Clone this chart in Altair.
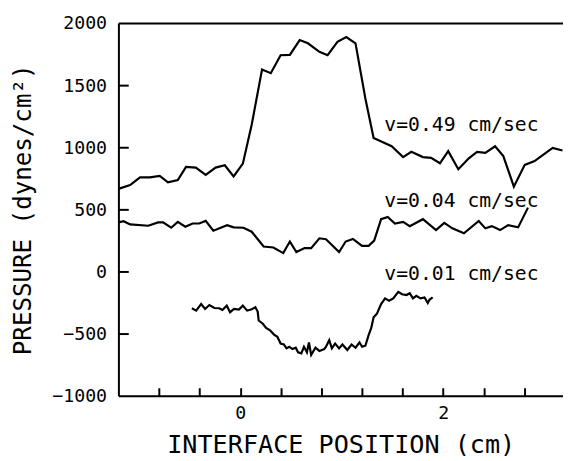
import altair as alt
import pandas as pd

# ---- data ----
x_049 = [-1.2, -1.085, -0.987, -0.89, -0.793, -0.712, -0.615, -0.534, -0.437, -0.34, -0.243, -0.152, -0.065,
         0.026, 0.113, 0.215, 0.301, 0.398, 0.489, 0.586, 0.667, 0.78, 0.861, 0.958, 1.045, 1.136, 1.233,
         1.314, 1.492, 1.605, 1.686, 1.8, 1.88, 1.968, 2.049, 2.149, 2.252, 2.333, 2.415, 2.511, 2.592,
         2.696, 2.803, 2.9, 2.98, 3.078, 3.175]
p_049 = [665, 696, 757, 757, 770, 717, 736, 842, 836, 778, 836, 855, 765,
         868, 1181, 1625, 1596, 1741, 1744, 1863, 1837, 1768, 1741, 1848, 1887, 1837, 1392,
         1074, 1008, 921, 963, 921, 915, 871, 969, 823, 911, 963, 955, 1008, 929,
         683, 858, 889, 937, 995, 974]

x_004 = [-1.197, -1.149, -1.085, -0.906, -0.809, -0.76, -0.68, -0.615, -0.541, -0.469, -0.405, -0.34, -0.265,
         -0.129, -0.065, 0.032, 0.113, 0.165, 0.23, 0.327, 0.424, 0.489, 0.553, 0.634, 0.699, 0.78, 0.845,
         0.974, 1.039, 1.11, 1.2, 1.265, 1.32, 1.388, 1.453, 1.524, 1.605, 1.67, 1.8, 1.929, 2.01, 2.09,
         2.204, 2.35, 2.415, 2.479, 2.56, 2.64, 2.738, 2.835]
p_004 = [395, 405, 379, 368, 395, 395, 352, 399, 360, 386, 386, 407, 328,
         373, 355, 352, 320, 267, 201, 193, 148, 241, 156, 188, 188, 267, 259,
         156, 241, 262, 206, 206, 249, 421, 439, 386, 399, 365, 421, 333, 391, 347,
         307, 407, 347, 365, 333, 373, 355, 514]

x_001 = [-0.476, -0.434, -0.385, -0.346, -0.304, -0.255, -0.207, -0.175, -0.133, -0.1, -0.061, -0.013, 0.026,
         0.068, 0.107, 0.149, 0.172, 0.182, 0.223, 0.255, 0.294, 0.333, 0.366, 0.398, 0.43, 0.456, 0.483,
         0.515, 0.547, 0.57, 0.602, 0.628, 0.657, 0.677, 0.699, 0.741, 0.78, 0.828, 0.845, 0.877, 0.903,
         0.935, 0.974, 1.007, 1.055, 1.097, 1.136, 1.175, 1.201, 1.233, 1.265, 1.291, 1.314, 1.346, 1.388,
         1.427, 1.466, 1.508, 1.557, 1.595, 1.638, 1.67, 1.702, 1.735, 1.777, 1.816, 1.848, 1.864, 1.896]
p_001 = [-296, -315, -262, -302, -270, -294, -296, -310, -275, -328, -302, -307, -275,
         -315, -307, -288, -323, -395, -421, -455, -474, -508, -526, -580, -588, -619, -606,
         -625, -614, -651, -659, -606, -651, -572, -672, -614, -640, -625, -606, -553, -619,
         -580, -619, -588, -632, -588, -614, -572, -606, -598, -513, -455, -368, -341, -262,
         -217, -235, -217, -164, -183, -190, -175, -217, -196, -217, -209, -254, -228, -209]

labels = ["v=0.49 cm/sec", "v=0.04 cm/sec", "v=0.01 cm/sec"]
label_x = [1.42, 1.42, 1.42]
label_p = [1175, 565, -20]

x_major = [0, 2]
x_minor = [-0.8, -0.4, 0, 0.4, 0.8, 1.2, 1.6, 2.0, 2.4, 2.8]
y_major = [-1000, -500, 0, 500, 1000, 1500, 2000]
y_minor = [-500, 0, 500, 1000, 1500]

rows = []
for name, xs_, ps_ in [("0.49", x_049, p_049), ("0.04", x_004, p_004), ("0.01", x_001, p_001)]:
    for i, (a, b) in enumerate(zip(xs_, ps_)):
        rows.append({"series": name, "order": i, "x": a, "p": b})
df = pd.DataFrame(rows)
lab_df = pd.DataFrame({"text": labels, "x": label_x, "p": label_p})

FONT = "DejaVu Sans Mono"
W, H = 451, 378
xsc = alt.Scale(domain=[-1.2, 3.18], nice=False, zero=False)
ysc = alt.Scale(domain=[-1000, 2000], nice=False, zero=False)

lines = alt.Chart(df).mark_line(color="black", strokeWidth=2.2, clip=True).encode(
    x=alt.X("x:Q", scale=xsc, axis=alt.Axis(
        values=x_major, format="d", title="INTERFACE POSITION (cm)", ticks=False, labelPadding=8,
        domainWidth=2, domainColor="black", grid=False, labelFontSize=18.5, titleFontSize=25.5,
        labelFont=FONT, titleFont=FONT, titleFontWeight="normal", titlePadding=11,
        labelColor="black", titleColor="black")),
    y=alt.Y("p:Q", scale=ysc, axis=alt.Axis(
        values=y_major, format="d", title="PRESSURE (dynes/cm²)", ticks=False, labelPadding=12,
        domainWidth=2, domainColor="black", grid=False, labelFontSize=18.5, titleFontSize=24.5,
        labelFont=FONT, titleFont=FONT, titleFontWeight="normal", titlePadding=16,
        labelColor="black", titleColor="black")),
    detail="series:N",
    order="order:Q",
)

ticks = alt.Chart(df).mark_line(opacity=0).encode(
    x=alt.X("x:Q", scale=xsc, axis=alt.Axis(
        orient="top", offset=-H, values=x_minor, labels=False, title="", domain=False,
        tickSize=8, tickWidth=2, tickColor="black", grid=False)),
    y=alt.Y("p:Q", scale=ysc, axis=alt.Axis(
        orient="right", offset=-W, values=y_minor, labels=False, title="", domain=False,
        tickSize=10, tickWidth=2, tickColor="black", grid=False)),
    detail="series:N",
)

text = alt.Chart(lab_df).mark_text(align="left", baseline="middle", font=FONT, fontSize=20, color="black").encode(
    x=alt.X("x:Q", scale=xsc, axis=alt.Axis(
        orient="top", labels=False, ticks=False, title="", domainWidth=2, domainColor="black", grid=False)),
    y=alt.Y("p:Q", scale=ysc, axis=None),
    text="text:N",
)

chart = alt.layer(lines, ticks, text).resolve_axis(x="independent", y="independent").properties(
    width=W, height=H,
    autosize=alt.AutoSizeParams(type="none"),
    padding={"left": 112, "top": 12, "right": 0, "bottom": 62},
).configure_view(stroke=None).configure(background="white")

chart.save("out.html", embed_options={"renderer": "svg", "actions": False})
